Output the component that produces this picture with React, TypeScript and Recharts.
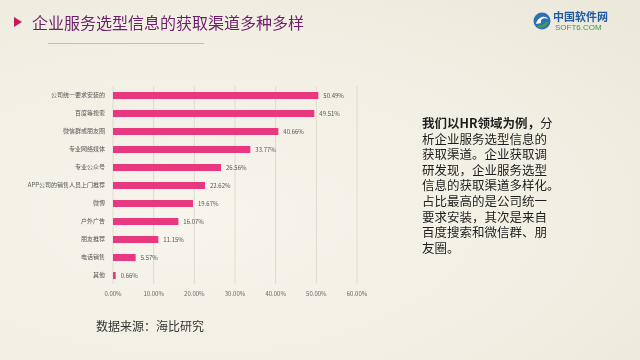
import React from 'react';
import { BarChart, Bar, XAxis, YAxis, CartesianGrid, LabelList } from 'recharts';

const channels = [
  '公司统一要求安装的',
  '百度等搜索',
  '微信群或朋友圈',
  '专业网络媒体',
  '专业公众号',
  'APP公司的销售人员上门推荐',
  '微博',
  '户外广告',
  '朋友推荐',
  '电话销售',
  '其他',
];
const shares = [50.49, 49.51, 40.66, 33.77, 26.56, 22.62, 19.67, 16.07, 11.15, 5.57, 0.66];
const xTicks = [0, 10, 20, 30, 40, 50, 60];

const noteLines = [
  '析企业服务选型信息的',
  '获取渠道。企业获取调',
  '研发现，企业服务选型',
  '信息的获取渠道多样化。',
  '占比最高的是公司统一',
  '要求安装，其次是来自',
  '百度搜索和微信群、朋',
  '友圈。',
];

const data = channels.map((name, i) => ({ name, value: shares[i] }));

const cjk = '"Noto Sans CJK SC", "Noto Sans", sans-serif';

const App: React.FC = () => {
  return (
    <div
      style={{
        position: 'fixed',
        left: 0,
        top: 0,
        width: 640,
        height: 360,
        overflow: 'hidden',
        background: 'radial-gradient(ellipse at 30% 60%, #f7f5ec 0%, #f1efe3 60%, #ebe8da 100%)',
        fontFamily: cjk,
      }}
    >
      {/* title */}
      <div style={{ position: 'absolute', left: 14, top: 17, width: 0, height: 0, borderTop: '5px solid transparent', borderBottom: '5px solid transparent', borderLeft: '8px solid #c8185a' }} />
      <div style={{ position: 'absolute', left: 32, top: 10, fontSize: 16, color: '#6e1f6a', whiteSpace: 'nowrap' }}>
        企业服务选型信息的获取渠道多种多样
      </div>
      <div style={{ position: 'absolute', left: 48, top: 43, width: 156, height: 1, background: '#c4c0b8' }} />

      {/* logo */}
      <svg style={{ position: 'absolute', left: 532, top: 10 }} width={20} height={22}>
        <circle cx={10} cy={11} r={8.5} fill="#2f6fb5" />
        <path d="M4 14 C6 6, 14 5, 16 9 C12 7, 8 9, 9 13 Z" fill="#ffffff" />
        <path d="M6 16 C9 17, 14 16, 15 12" stroke="#3fa14a" strokeWidth={2.5} fill="none" />
      </svg>
      <div style={{ position: 'absolute', left: 553, top: 10, fontSize: 11, fontWeight: 700, color: '#1f5aa6', whiteSpace: 'nowrap', lineHeight: '13px' }}>
        中国软件网
      </div>
      <div style={{ position: 'absolute', left: 555, top: 23, fontSize: 8, color: '#3a9a4a', whiteSpace: 'nowrap', fontFamily: 'Arial, "Liberation Sans", sans-serif', lineHeight: '10px' }}>
        SOFT6.COM
      </div>

      {/* chart */}
      <div style={{ position: 'absolute', left: 28, top: 80 }}>
        <BarChart
          width={341}
          height={226}
          layout="vertical"
          data={data}
          margin={{ top: 6, right: 12, bottom: 0, left: 0 }}
          barCategoryGap={5}
        >
          <CartesianGrid horizontal={false} stroke="#dedad0" />
          <XAxis
            type="number"
            domain={[0, 60]}
            ticks={xTicks}
            tickFormatter={(v: number) => `${v.toFixed(2)}%`}
            axisLine={false}
            tickLine={false}
            height={22}
            tick={{ fontSize: 6, fill: '#666', fontFamily: cjk }}
            interval={0}
          />
          <YAxis
            type="category"
            dataKey="name"
            width={85}
            axisLine={false}
            tickLine={false}
            interval={0}
            tick={{ fontSize: 6, fill: '#555', fontFamily: cjk }}
          />
          <Bar dataKey="value" fill="#e8387f" barSize={7} isAnimationActive={false}>
            <LabelList
              dataKey="value"
              position="right"
              offset={5}
              formatter={(v: number) => `${v.toFixed(2)}%`}
              style={{ fontSize: 6, fill: '#555', fontFamily: cjk }}
            />
          </Bar>
        </BarChart>
      </div>

      {/* note */}
      <div style={{ position: 'absolute', left: 422, top: 115, fontSize: 12.5, lineHeight: '15.6px', color: '#1e1e1e', whiteSpace: 'nowrap' }}>
        <div>
          <span style={{ fontWeight: 700 }}>我们以HR领域为例，</span>分
        </div>
        {noteLines.map((l) => (
          <div key={l}>{l}</div>
        ))}
      </div>

      {/* source */}
      <div style={{ position: 'absolute', left: 96, top: 317, fontSize: 12, color: '#333', whiteSpace: 'nowrap' }}>
        数据来源：海比研究
      </div>
    </div>
  );
};

export default App;
